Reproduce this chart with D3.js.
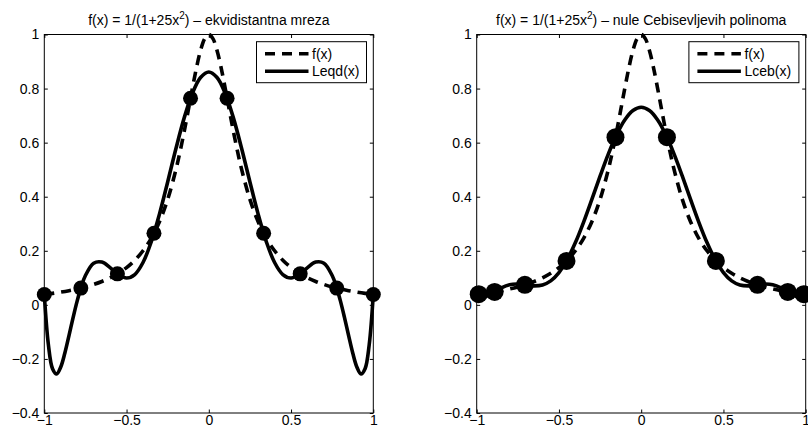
<!DOCTYPE html>
<html>
<head>
<meta charset="utf-8">
<script src="https://cdn.jsdelivr.net/npm/d3@7"></script>
<style>
  html, body { margin: 0; padding: 0; background: #fff; }
  svg { display: block; font-family: "Liberation Sans", Arial, sans-serif; }
</style>
</head>
<body>
<svg id="chart" width="808" height="434"></svg>
<script>
// Runge function f(x) = 1/(1+25x^2), sampled on [-1, 1]
const fX = [-1, -0.95, -0.9, -0.85, -0.8, -0.75, -0.7, -0.65, -0.6, -0.55, -0.5, -0.45, -0.4, -0.35, -0.3, -0.25, -0.2, -0.175, -0.15, -0.125, -0.1, -0.075, -0.05, -0.025,
  0, 0.025, 0.05, 0.075, 0.1, 0.125, 0.15, 0.175, 0.2, 0.25, 0.3, 0.35, 0.4, 0.45, 0.5, 0.55, 0.6, 0.65, 0.7, 0.75, 0.8, 0.85, 0.9, 0.95, 1];
const fY = [0.0385, 0.0424, 0.0471, 0.0525, 0.0588, 0.0664, 0.0755, 0.0865, 0.1000, 0.1168, 0.1379, 0.1649, 0.2000, 0.2462, 0.3077, 0.3902, 0.5000, 0.5664, 0.6400, 0.7191, 0.8000, 0.8767, 0.9412, 0.9846,
  1.0000, 0.9846, 0.9412, 0.8767, 0.8000, 0.7191, 0.6400, 0.5664, 0.5000, 0.3902, 0.3077, 0.2462, 0.2000, 0.1649, 0.1379, 0.1168, 0.1000, 0.0865, 0.0755, 0.0664, 0.0588, 0.0525, 0.0471, 0.0424, 0.0385];

// Lagrange interpolant on 10 equidistant nodes
const eqX = [-1, -0.975, -0.95, -0.925, -0.9, -0.875, -0.85, -0.825, -0.8, -0.775, -0.75, -0.7, -0.65, -0.6, -0.55, -0.5, -0.45, -0.4, -0.35, -0.3, -0.25, -0.2, -0.15, -0.1, -0.05,
  0, 0.05, 0.1, 0.15, 0.2, 0.25, 0.3, 0.35, 0.4, 0.45, 0.5, 0.55, 0.6, 0.65, 0.7, 0.75, 0.775, 0.8, 0.825, 0.85, 0.875, 0.9, 0.925, 0.95, 0.975, 1];
const eqY = [0.0385, -0.1480, -0.2360, -0.2554, -0.2300, -0.1781, -0.1138, -0.0472, 0.0147, 0.0673, 0.1084, 0.1540, 0.1581, 0.1377, 0.1122, 0.0995, 0.1122, 0.1566, 0.2330, 0.3356, 0.4546, 0.5774, 0.6907, 0.7820, 0.8411,
  0.8615, 0.8411, 0.7820, 0.6907, 0.5774, 0.4546, 0.3356, 0.2330, 0.1566, 0.1122, 0.0995, 0.1122, 0.1377, 0.1581, 0.1540, 0.1084, 0.0673, 0.0147, -0.0472, -0.1138, -0.1781, -0.2300, -0.2554, -0.2360, -0.1480, 0.0385];
const eqNodeX = [-1, -0.7778, -0.5556, -0.3333, -0.1111, 0.1111, 0.3333, 0.5556, 0.7778, 1];
const eqNodeY = [0.0385, 0.0620, 0.1147, 0.2647, 0.7642, 0.7642, 0.2647, 0.1147, 0.0620, 0.0385];

// Lagrange interpolant on the zeros of the Chebyshev polynomial T10
const cbX = [-1, -0.975, -0.95, -0.925, -0.9, -0.85, -0.8, -0.75, -0.7, -0.65, -0.6, -0.55, -0.5, -0.45, -0.4, -0.35, -0.3, -0.25, -0.2, -0.15, -0.1, -0.05,
  0, 0.05, 0.1, 0.15, 0.2, 0.25, 0.3, 0.35, 0.4, 0.45, 0.5, 0.55, 0.6, 0.65, 0.7, 0.75, 0.8, 0.85, 0.9, 0.925, 0.95, 0.975, 1];
const cbY = [0.0488, 0.0336, 0.0310, 0.0359, 0.0445, 0.0629, 0.0745, 0.0769, 0.0734, 0.0701, 0.0734, 0.0886, 0.1194, 0.1669, 0.2303, 0.3063, 0.3901, 0.4761, 0.5577, 0.6288, 0.6840, 0.7189,
  0.7308, 0.7189, 0.6840, 0.6288, 0.5577, 0.4761, 0.3901, 0.3063, 0.2303, 0.1669, 0.1194, 0.0886, 0.0734, 0.0701, 0.0734, 0.0769, 0.0745, 0.0629, 0.0445, 0.0359, 0.0310, 0.0336, 0.0488];
const cbNodeX = [-0.9877, -0.8910, -0.7071, -0.4540, -0.1564, 0.1564, 0.4540, 0.7071, 0.8910, 0.9877];
const cbNodeY = [0.0394, 0.0480, 0.0741, 0.1625, 0.6204, 0.6204, 0.1625, 0.0741, 0.0480, 0.0394];

const xTicks = [-1, -0.5, 0, 0.5, 1];
const yTicks = [-0.4, -0.2, 0, 0.2, 0.4, 0.6, 0.8, 1];

const panels = [
  { left: 44.3, right: 373.3, titleTail: ") \u2013 ekvidistantna mreza", name: "Leqd(x)",
    lx: eqX, ly: eqY, nx: eqNodeX, ny: eqNodeY, r: 7.5 },
  { left: 476.7, right: 805.7, titleTail: ") \u2013 nule Cebisevljevih polinoma", name: "Lceb(x)",
    lx: cbX, ly: cbY, nx: cbNodeX, ny: cbNodeY, r: 9 }
];

const plotTop = 34.5, plotBottom = 413;
const svg = d3.select("#chart");
const fmt = d3.format("");
const lw = 3.6, dash = "10,7";

panels.forEach(p => {
  const x = d3.scaleLinear().domain([-1, 1]).range([p.left, p.right]);
  const y = d3.scaleLinear().domain([-0.4, 1]).range([plotBottom, plotTop]);
  const g = svg.append("g");

  // frame
  g.append("rect").attr("x", p.left).attr("y", plotTop)
    .attr("width", p.right - p.left).attr("height", plotBottom - plotTop)
    .attr("fill", "none").attr("stroke", "#000").attr("stroke-width", 1);

  const styleAxis = sel => {
    sel.select(".domain").remove();
    sel.selectAll(".tick line").attr("stroke", "#000");
    sel.selectAll(".tick text").attr("fill", "#000")
      .attr("font-size", 14).attr("font-family", "Liberation Sans, Arial, sans-serif");
  };

  g.append("g").attr("transform", `translate(0,${plotBottom})`)
    .call(d3.axisBottom(x).tickValues(xTicks).tickFormat(fmt).tickSizeInner(-3.5).tickSizeOuter(0).tickPadding(2))
    .call(styleAxis);
  g.append("g").attr("transform", `translate(0,${plotTop})`)
    .call(d3.axisTop(x).tickValues(xTicks).tickFormat("").tickSizeInner(-3.5).tickSizeOuter(0))
    .call(styleAxis);
  g.append("g").attr("transform", `translate(${p.left},0)`)
    .call(d3.axisLeft(y).tickValues(yTicks).tickFormat(fmt).tickSizeInner(-3.5).tickSizeOuter(0).tickPadding(5))
    .call(styleAxis);
  g.append("g").attr("transform", `translate(${p.right},0)`)
    .call(d3.axisRight(y).tickValues(yTicks).tickFormat("").tickSizeInner(-3.5).tickSizeOuter(0))
    .call(styleAxis);

  const line = d3.line().curve(d3.curveCatmullRom.alpha(0.5));

  g.append("path")
    .attr("d", line(fX.map((v, i) => [x(v), y(fY[i])])))
    .attr("fill", "none").attr("stroke", "#000").attr("stroke-width", lw)
    .attr("stroke-dasharray", dash).attr("stroke-linejoin", "round");

  g.append("path")
    .attr("d", line(p.lx.map((v, i) => [x(v), y(p.ly[i])])))
    .attr("fill", "none").attr("stroke", "#000").attr("stroke-width", lw)
    .attr("stroke-linejoin", "round");

  g.selectAll("circle.node").data(p.nx.map((v, i) => [v, p.ny[i]])).join("circle")
    .attr("class", "node")
    .attr("cx", d => x(d[0])).attr("cy", d => y(d[1])).attr("r", p.r)
    .attr("fill", "#000");

  // title with superscript exponent
  const t = g.append("text")
    .attr("x", (p.left + p.right) / 2).attr("y", 25)
    .attr("text-anchor", "middle").attr("font-size", 14).attr("fill", "#000");
  t.append("tspan").text("f(x) = 1/(1+25x");
  t.append("tspan").attr("dy", -6).attr("font-size", 10).text("2");
  t.append("tspan").attr("dy", 6).text(p.titleTail);

  // legend
  const lgW = 110, lgH = 41;
  const lgX = p.right - 6.8 - lgW, lgY = plotTop + 7.2;
  const lg = g.append("g").attr("transform", `translate(${lgX},${lgY})`);
  lg.append("rect").attr("width", lgW).attr("height", lgH)
    .attr("fill", "#fff").attr("stroke", "#000").attr("stroke-width", 1);
  const rows = [{ label: "f(x)", dashed: true, yy: 12 }, { label: p.name, dashed: false, yy: 29.5 }];
  rows.forEach(r => {
    lg.append("line").attr("x1", 8.5).attr("x2", 52).attr("y1", r.yy).attr("y2", r.yy)
      .attr("stroke", "#000").attr("stroke-width", lw)
      .attr("stroke-dasharray", r.dashed ? dash : null);
    lg.append("text").attr("x", 55.5).attr("y", r.yy).attr("dy", "0.35em")
      .attr("font-size", 14).attr("fill", "#000").text(r.label);
  });
});
</script>
</body>
</html>
